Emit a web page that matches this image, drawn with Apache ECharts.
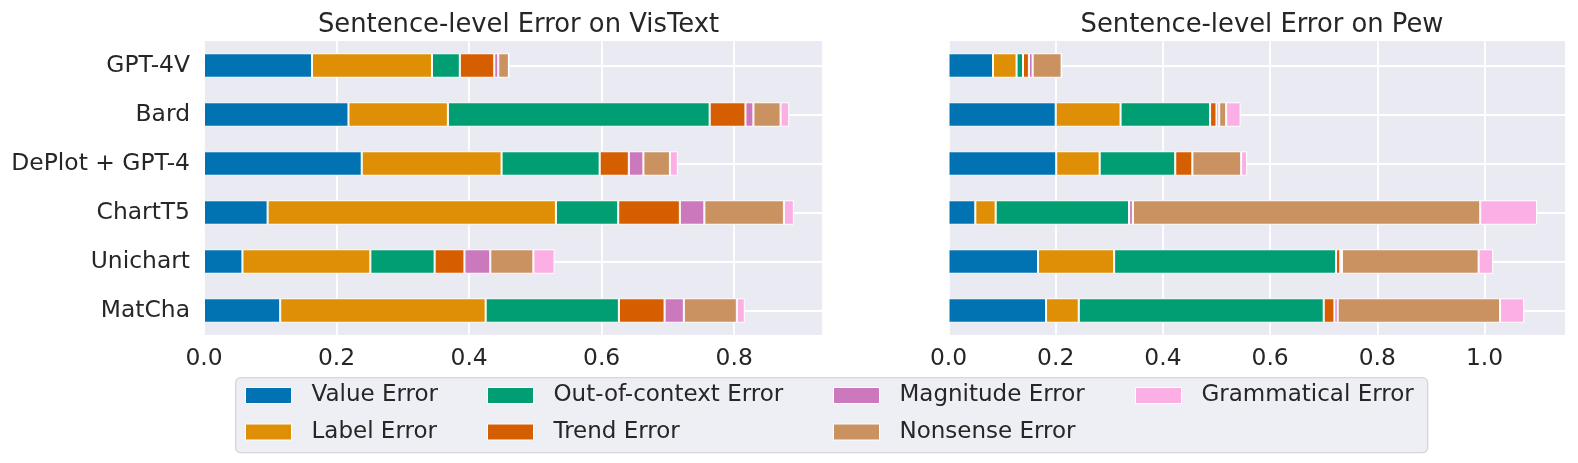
<!DOCTYPE html>
<html>
<head>
<meta charset="utf-8">
<script src="https://cdn.jsdelivr.net/npm/echarts@6/dist/echarts.min.js"></script>
<style>
html,body{margin:0;padding:0;background:#fff;}
#chart{width:1578px;height:463px;}
</style>
</head>
<body>
<div id="chart"></div>
<script>
const categories = ['GPT-4V', 'Bard', 'DePlot + GPT-4', 'ChartT5', 'Unichart', 'MatCha'];
const errorTypes = ['Value Error', 'Label Error', 'Out-of-context Error', 'Trend Error', 'Magnitude Error', 'Nonsense Error', 'Grammatical Error'];
const titles = ['Sentence-level Error on VisText', 'Sentence-level Error on Pew'];
const xTicks = [0, 0.2, 0.4, 0.6, 0.8, 1.0];

// VisText values per error type (order follows categories)
const vistextValue      = [0.163, 0.218, 0.238, 0.096, 0.058, 0.115];
const vistextLabel      = [0.181, 0.150, 0.211, 0.435, 0.193, 0.310];
const vistextOOC        = [0.042, 0.395, 0.148, 0.094, 0.097, 0.201];
const vistextTrend      = [0.052, 0.054, 0.044, 0.093, 0.045, 0.069];
const vistextMagnitude  = [0.006, 0.012, 0.022, 0.037, 0.039, 0.029];
const vistextNonsense   = [0.016, 0.041, 0.040, 0.120, 0.065, 0.080];
const vistextGrammar    = [0.000, 0.013, 0.012, 0.015, 0.032, 0.012];

// Pew values per error type
const pewValue      = [0.083, 0.200, 0.201, 0.050, 0.167, 0.182];
const pewLabel      = [0.044, 0.121, 0.081, 0.038, 0.142, 0.061];
const pewOOC        = [0.012, 0.167, 0.141, 0.249, 0.414, 0.457];
const pewTrend      = [0.011, 0.012, 0.032, 0.000, 0.008, 0.020];
const pewMagnitude  = [0.007, 0.005, 0.000, 0.007, 0.003, 0.006];
const pewNonsense   = [0.054, 0.013, 0.091, 0.648, 0.255, 0.303];
const pewGrammar    = [0.000, 0.027, 0.011, 0.106, 0.027, 0.045];

const colors = ['#0173b2', '#de8f05', '#029e73', '#d55e00', '#cc78bc', '#ca9161', '#fbafe4'];
const vistextData = [vistextValue, vistextLabel, vistextOOC, vistextTrend, vistextMagnitude, vistextNonsense, vistextGrammar];
const pewData = [pewValue, pewLabel, pewOOC, pewTrend, pewMagnitude, pewNonsense, pewGrammar];

const FONT = 'DejaVu Sans';
const TXT = '#262626';
const FS = 23.4;
const LFS = 23;

function xAxisFor(gridIndex, max) {
  return {
    type: 'value', gridIndex: gridIndex, min: 0, max: max, interval: 0.2,
    axisLine: {show: false}, axisTick: {show: false},
    axisLabel: {show: true, showMaxLabel: false, fontFamily: FONT, fontSize: FS, color: TXT, margin: 12,
      formatter: v => v.toFixed(1)},
    splitLine: {show: true, lineStyle: {color: '#ffffff', width: 1.8}}
  };
}
function yAxisFor(gridIndex, showLabels) {
  return {
    type: 'category', gridIndex: gridIndex, data: categories, inverse: true,
    axisLine: {show: false}, axisTick: {show: false},
    axisLabel: {show: showLabels, fontFamily: FONT, fontSize: FS, color: TXT, margin: 14},
    splitLine: {show: false}
  };
}

const series = [];
[vistextData, pewData].forEach((dataset, gi) => {
  series.push({
    type: 'line', xAxisIndex: gi, yAxisIndex: gi, data: [], z: 1, silent: true,
    markLine: {
      silent: true, z: 1, symbol: 'none', animation: false,
      label: {show: false},
      lineStyle: {color: '#ffffff', width: 1.8, type: 'solid'},
      data: categories.map(c => ({yAxis: c}))
    }
  });
  dataset.forEach((vals, si) => {
    series.push({
      name: errorTypes[si], type: 'bar', stack: 'total' + gi,
      xAxisIndex: gi, yAxisIndex: gi, barWidth: '50%', z: 2,
      itemStyle: {color: colors[si], borderColor: '#ffffff', borderWidth: 1},
      emphasis: {disabled: true},
      data: vals
    });
  });
});

const legendCols = [[0, 1], [2, 3], [4, 5], [6]];
const legendLefts = [245, 487, 833, 1135];
const legends = legendCols.map((col, i) => ({
  orient: 'vertical', left: legendLefts[i], top: 384, padding: 0,
  itemWidth: 46, itemHeight: 16, itemGap: 13.5, selectedMode: false,
  icon: 'rect',
  itemStyle: {borderColor: '#ffffff', borderWidth: 1},
  textStyle: {fontFamily: FONT, fontSize: LFS, color: TXT, padding: [0, 0, 0, 15]},
  data: col.map(k => errorTypes[k])
}));

const option = {
  animation: false,
  backgroundColor: '#ffffff',
  color: colors,
  title: [
    {text: titles[0], left: 513.5, top: 7, textAlign: 'center',
     textStyle: {fontFamily: FONT, fontSize: 25.8, fontWeight: 'normal', color: TXT}},
    {text: titles[1], left: 1257, top: 7, textAlign: 'center',
     textStyle: {fontFamily: FONT, fontSize: 25.8, fontWeight: 'normal', color: TXT}}
  ],
  grid: [
    {left: 204, top: 41, width: 619, height: 294, show: true, backgroundColor: '#eaeaf2', borderWidth: 0},
    {left: 948.5, top: 41, width: 617.5, height: 294, show: true, backgroundColor: '#eaeaf2', borderWidth: 0}
  ],
  xAxis: [xAxisFor(0, 0.934), xAxisFor(1, 1.152)],
  yAxis: [yAxisFor(0, true), yAxisFor(1, false)],
  legend: legends,
  graphic: [{
    type: 'rect', left: 235, top: 377, z: -1, silent: true,
    shape: {width: 1192, height: 75, r: 5},
    style: {fill: '#eeeef5', stroke: '#d6d6d6', lineWidth: 1.3}
  }],
  series: series
};

const chart = echarts.init(document.getElementById('chart'), null, {renderer: 'canvas'});
chart.setOption(option);
</script>
</body>
</html>
